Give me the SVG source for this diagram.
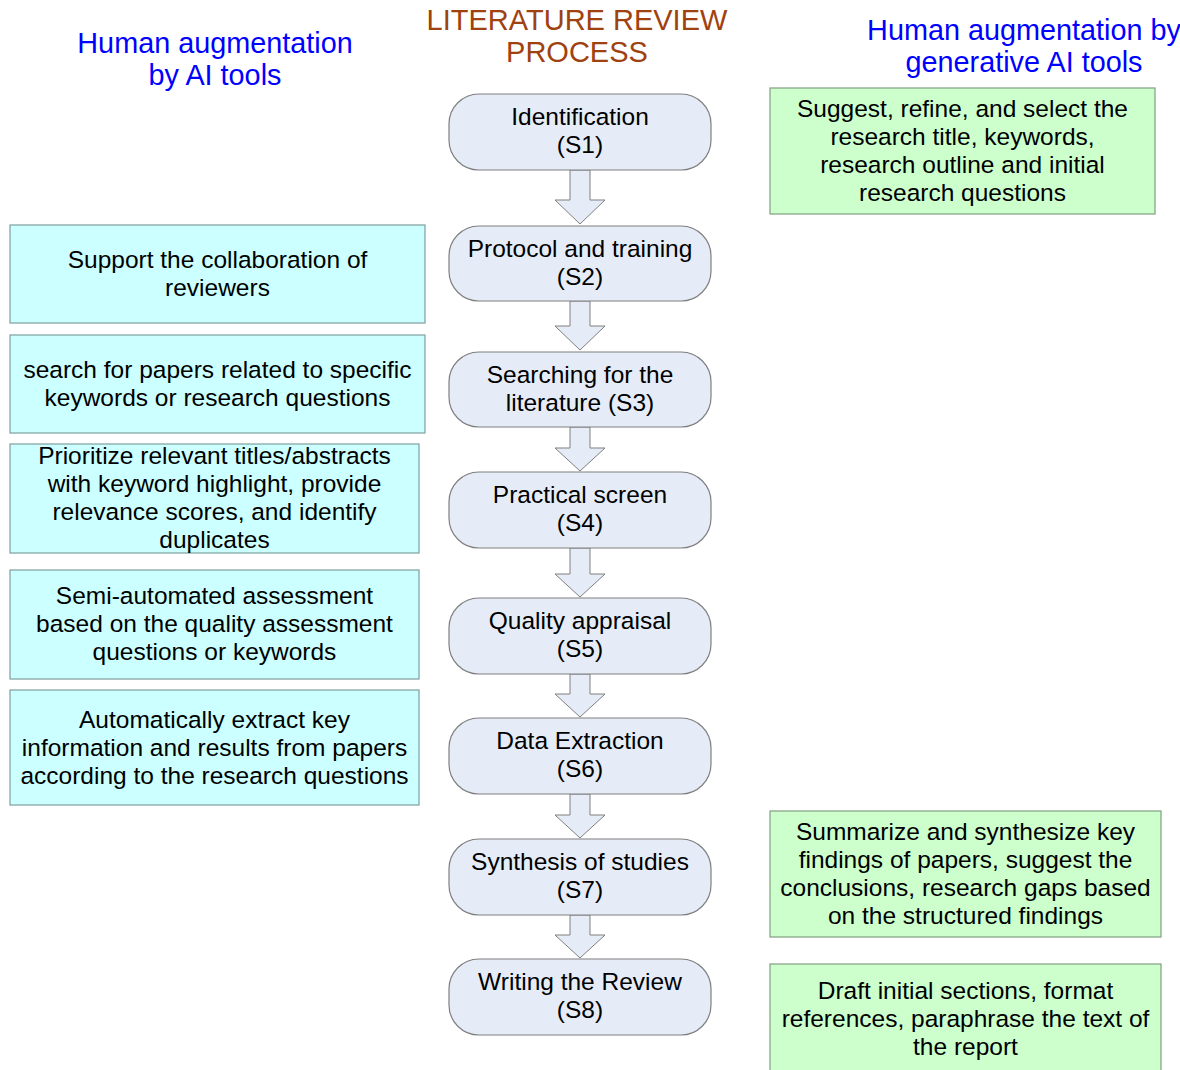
<svg xmlns="http://www.w3.org/2000/svg" width="1180" height="1070" viewBox="0 0 1180 1070">
  <style>
    text { font-family: "Liberation Sans", Arial, sans-serif; text-anchor: middle; }
    .t { font-size: 24.5px; fill: #000; }
    .hdr { font-size: 28.8px; fill: #0000ff; }
    .main { font-size: 29px; fill: #a0420f; }
    .step { fill: #e6ecf7; stroke: #7f7f7f; stroke-width: 1.2; }
    .ai { fill: #ccffff; stroke: #7f9f9f; stroke-width: 1.2; }
    .gen { fill: #ccffcc; stroke: #7f9f7f; stroke-width: 1.2; }
    .flow { fill: #e6ecf7; stroke: #7f7f7f; stroke-width: 1; }
  </style>

  <!-- column headings -->
  <g id="headings">
    <text class="main" x="577" y="30">LITERATURE REVIEW</text>
    <text class="main" x="577" y="62">PROCESS</text>
    <text class="hdr" x="215" y="53">Human augmentation</text>
    <text class="hdr" x="215" y="85">by AI tools</text>
    <text class="hdr" x="1024" y="40">Human augmentation by</text>
    <text class="hdr" x="1024" y="72">generative AI tools</text>
  </g>

  <!-- block arrows between steps -->
  <g id="connectors">
    <path class="flow" d="M570,170 V200 H555 L580,224 L605,200 H590 V170 Z"/>
    <path class="flow" d="M570,301 V326 H555 L580,350 L605,326 H590 V301 Z"/>
    <path class="flow" d="M570,427 V448 H555 L580,471 L605,448 H590 V427 Z"/>
    <path class="flow" d="M570,548 V574 H555 L580,597 L605,574 H590 V548 Z"/>
    <path class="flow" d="M570,674 V694 H555 L580,717 L605,694 H590 V674 Z"/>
    <path class="flow" d="M570,794 V815 H555 L580,838 L605,815 H590 V794 Z"/>
    <path class="flow" d="M570,915 V935 H555 L580,958 L605,935 H590 V915 Z"/>
  </g>

  <!-- process steps -->
  <g id="s1">
    <rect class="step" x="449" y="94" width="262" height="76" rx="30"/>
    <text class="t" x="580" y="125">Identification</text>
    <text class="t" x="580" y="153">(S1)</text>
  </g>
  <g id="s2">
    <rect class="step" x="449" y="226" width="262" height="75" rx="30"/>
    <text class="t" x="580" y="257">Protocol and training</text>
    <text class="t" x="580" y="285">(S2)</text>
  </g>
  <g id="s3">
    <rect class="step" x="449" y="352" width="262" height="75" rx="30"/>
    <text class="t" x="580" y="383">Searching for the</text>
    <text class="t" x="580" y="411">literature (S3)</text>
  </g>
  <g id="s4">
    <rect class="step" x="449" y="472" width="262" height="76" rx="30"/>
    <text class="t" x="580" y="503">Practical screen</text>
    <text class="t" x="580" y="531">(S4)</text>
  </g>
  <g id="s5">
    <rect class="step" x="449" y="598" width="262" height="76" rx="30"/>
    <text class="t" x="580" y="629">Quality appraisal</text>
    <text class="t" x="580" y="657">(S5)</text>
  </g>
  <g id="s6">
    <rect class="step" x="449" y="718" width="262" height="76" rx="30"/>
    <text class="t" x="580" y="749">Data Extraction</text>
    <text class="t" x="580" y="777">(S6)</text>
  </g>
  <g id="s7">
    <rect class="step" x="449" y="839" width="262" height="76" rx="30"/>
    <text class="t" x="580" y="870">Synthesis of studies</text>
    <text class="t" x="580" y="898">(S7)</text>
  </g>
  <g id="s8">
    <rect class="step" x="449" y="959" width="262" height="76" rx="30"/>
    <text class="t" x="580" y="990">Writing the Review</text>
    <text class="t" x="580" y="1018">(S8)</text>
  </g>

  <!-- AI tool support (left column) -->
  <g id="ai-collab">
    <rect class="ai" x="10" y="225" width="415" height="98"/>
    <text class="t" x="217.5" y="268">Support the collaboration of</text>
    <text class="t" x="217.5" y="296">reviewers</text>
  </g>
  <g id="ai-search">
    <rect class="ai" x="10" y="335" width="415" height="98"/>
    <text class="t" x="217.5" y="378">search for papers related to specific</text>
    <text class="t" x="217.5" y="406">keywords or research questions</text>
  </g>
  <g id="ai-screen">
    <rect class="ai" x="10" y="444" width="409" height="109"/>
    <text class="t" x="214.5" y="464">Prioritize relevant titles/abstracts</text>
    <text class="t" x="214.5" y="492">with keyword highlight, provide</text>
    <text class="t" x="214.5" y="520">relevance scores, and identify</text>
    <text class="t" x="214.5" y="548">duplicates</text>
  </g>
  <g id="ai-quality">
    <rect class="ai" x="10" y="570" width="409" height="109"/>
    <text class="t" x="214.5" y="604">Semi-automated assessment</text>
    <text class="t" x="214.5" y="632">based on the quality assessment</text>
    <text class="t" x="214.5" y="660">questions or keywords</text>
  </g>
  <g id="ai-extract">
    <rect class="ai" x="10" y="690" width="409" height="115"/>
    <text class="t" x="214.5" y="728">Automatically extract key</text>
    <text class="t" x="214.5" y="756">information and results from papers</text>
    <text class="t" x="214.5" y="784">according to the research questions</text>
  </g>

  <!-- generative AI support (right column) -->
  <g id="gen-identify">
    <rect class="gen" x="770" y="88" width="385" height="126"/>
    <text class="t" x="962.5" y="117">Suggest, refine, and select the</text>
    <text class="t" x="962.5" y="145">research title, keywords,</text>
    <text class="t" x="962.5" y="173">research outline and initial</text>
    <text class="t" x="962.5" y="201">research questions</text>
  </g>
  <g id="gen-synthesis">
    <rect class="gen" x="770" y="811" width="391" height="126"/>
    <text class="t" x="965.5" y="840">Summarize and synthesize key</text>
    <text class="t" x="965.5" y="868">findings of papers, suggest the</text>
    <text class="t" x="965.5" y="896">conclusions, research gaps based</text>
    <text class="t" x="965.5" y="924">on the structured findings</text>
  </g>
  <g id="gen-writing">
    <rect class="gen" x="770" y="964" width="391" height="120"/>
    <text class="t" x="965.5" y="999">Draft initial sections, format</text>
    <text class="t" x="965.5" y="1027">references, paraphrase the text of</text>
    <text class="t" x="965.5" y="1055">the report</text>
  </g>
</svg>
